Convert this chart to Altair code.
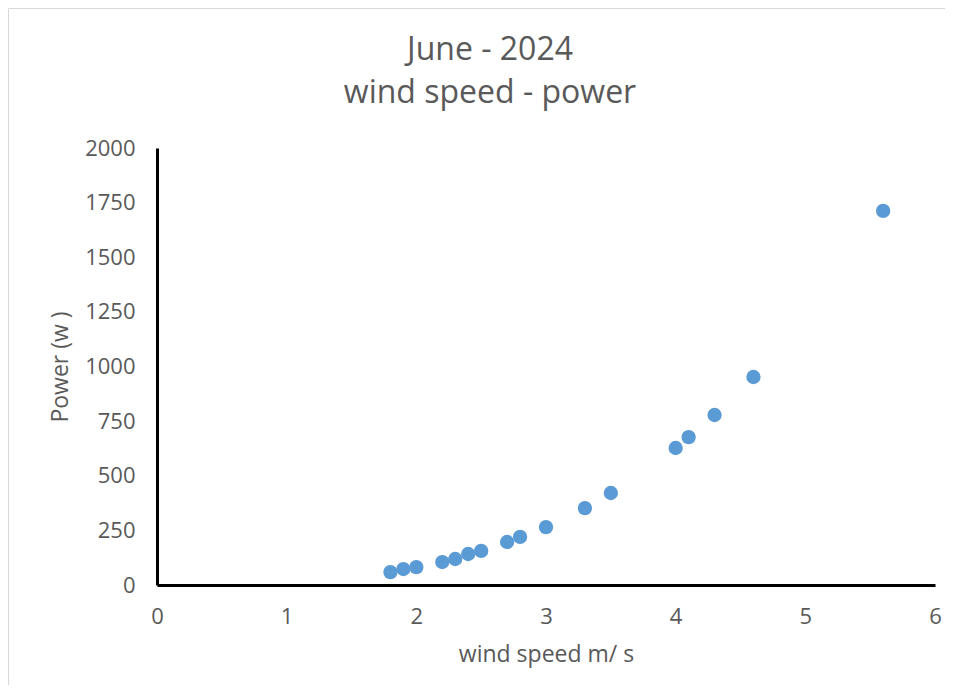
import altair as alt
import pandas as pd

wind_speed = [1.8, 1.9, 2.0, 2.2, 2.3, 2.4, 2.5, 2.7, 2.8, 3.0, 3.3, 3.5, 4.0, 4.1, 4.3, 4.6, 5.6]
power_w = [59, 73, 82, 105, 119, 142, 156, 197, 220, 265, 352, 421, 627, 677, 778, 952, 1712]

x_ticks = [0, 1, 2, 3, 4, 5, 6]
y_ticks = [0, 250, 500, 750, 1000, 1250, 1500, 1750, 2000]

title_lines = ["June - 2024", "wind speed - power"]
x_title = "wind speed m/ s"
y_title = "Power (w )"

df = pd.DataFrame({"ws": wind_speed, "p": power_w})

FONT = "Open Sans"
GREY = "#595959"

points = alt.Chart(df).mark_circle(size=205, color="#5b9bd5", opacity=1).encode(
    x=alt.X("ws:Q", title=x_title,
            scale=alt.Scale(domain=[0, 6], nice=False, zero=True),
            axis=alt.Axis(values=x_ticks, format="d", labelPadding=21,
                          titlePadding=16, labelFlush=False)),
    y=alt.Y("p:Q", title=y_title,
            scale=alt.Scale(domain=[0, 2000], nice=False),
            axis=alt.Axis(values=y_ticks, format="d", labelPadding=22, titlePadding=12)),
)

border = alt.Chart(pd.DataFrame({"a": [0]})).mark_rect(
    fill=None, stroke="#d9d9d9", strokeWidth=1, clip=False
).encode(
    x=alt.value(-148.5), x2=alt.value(820),
    y=alt.value(-139.5), y2=alt.value(600),
)

chart = alt.layer(border, points).properties(
    width=778, height=437,
    autosize=alt.AutoSizeParams(type="none"),
    padding={"left": 149, "top": 140, "right": 10, "bottom": 100},
    title=alt.TitleParams(text=title_lines, fontSize=32, font=FONT, color=GREY,
                          fontWeight="normal", lineHeight=43, dx=-56, offset=-102,
                          anchor="middle"),
).configure_view(stroke=None).configure_axis(
    grid=False, ticks=False, domainColor="black", domainWidth=3,
    labelFont=FONT, labelFontSize=22, labelColor=GREY,
    titleFont=FONT, titleFontSize=23, titleColor=GREY, titleFontWeight="normal",
)

chart.save("out.html", embed_options={"renderer": "svg", "actions": False})
